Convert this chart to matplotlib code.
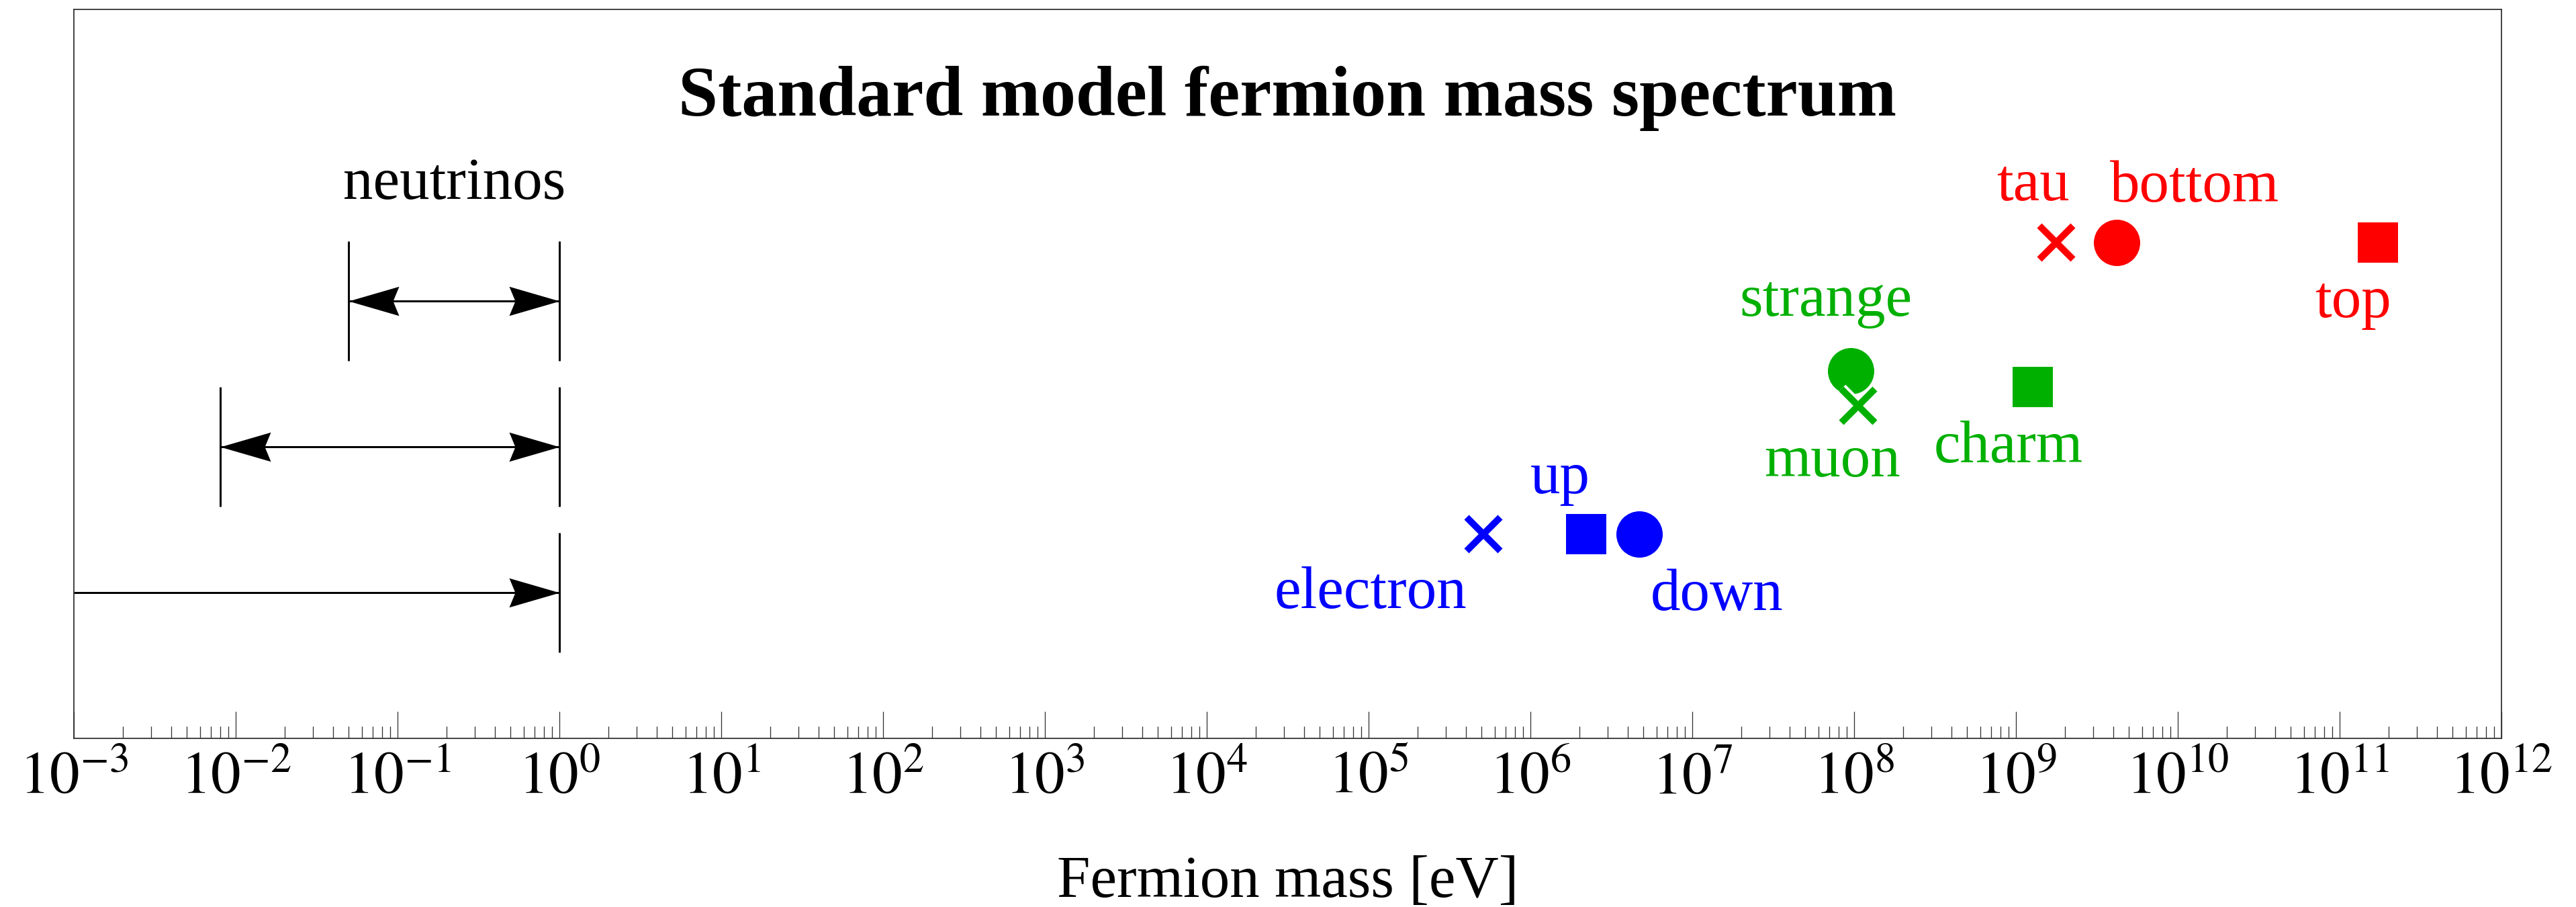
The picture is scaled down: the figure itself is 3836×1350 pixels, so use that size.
import matplotlib.pyplot as plt
from matplotlib.path import Path
from matplotlib.ticker import LogLocator, FuncFormatter, NullFormatter
import matplotlib.patheffects as pe
import numpy as np

plt.rcParams['font.family'] = ['Liberation Serif', 'DejaVu Serif']
plt.rcParams['mathtext.fontset'] = 'stix'

# charged fermions: masses in eV, row on the chart, kind sets the marker
names = ['down', 'strange', 'bottom', 'up', 'charm', 'top', 'electron', 'muon', 'tau']
masses = [4.7e6, 9.5e7, 4.18e9, 2.2e6, 1.27e9, 1.73e11, 5.11e5, 1.057e8, 1.777e9]
rows = [1.0, 2.12, 3.0, 1.0, 2.01, 3.0, 1.0, 1.88, 3.0]
generation = [1, 2, 3, 1, 2, 3, 1, 2, 3]
kinds = ['down', 'down', 'down', 'up', 'up', 'up', 'lepton', 'lepton', 'lepton']

# neutrino mass ranges in eV (lower bound 0 = unbounded)
nu_rows = [2.6, 1.6, 0.6]
nu_low = [0.05, 0.008, 0.0]
nu_high = [1.0, 1.0, 1.0]

decades = np.arange(-3, 13)

DPI = 100
px = 72 / DPI  # pixels -> points

gen_colors = {1: '#0000ff', 2: '#00b000', 3: '#ff0000'}
markers = {'down': 'o', 'up': 's', 'lepton': 'x'}
msizes = {'down': 69 * px, 'up': 60 * px, 'lepton': 50 * px}

# label offsets from the marker, in pixels (dx right, dy down to baseline)
label_offsets = {
    'electron': (-168, 110), 'up': (-38, -61), 'down': (116, 113),
    'strange': (-37, -82), 'muon': (-38, 105), 'charm': (-36, 112),
    'tau': (-35, -63), 'bottom': (116, -61), 'top': (-37, 111),
}

fig = plt.figure(figsize=(3837 / DPI, 1350 / DPI), dpi=DPI)
ax = fig.add_axes([110 / 3837, 251 / 1350, 3615 / 3837, 1085 / 1350])

ax.set_xscale('log')
ax.set_xlim(10.0 ** decades[0], 10.0 ** decades[-1])
ax.set_ylim(-0.4, 4.6)

# neutrino ranges: shaft, end bars and arrowheads
head_r = Path([(0, 0), (-1, 0.29), (-0.88, 0), (-1, -0.29), (0, 0)],
              [Path.MOVETO, Path.LINETO, Path.LINETO, Path.LINETO, Path.CLOSEPOLY])
head_l = Path(head_r.vertices * [-1, 1], head_r.codes)
lw = 3 * px
half = 0.41
xmin = ax.get_xlim()[0]
for y, lo, hi in zip(nu_rows, nu_low, nu_high):
    start = lo if lo > 0 else xmin
    ax.plot([start, hi], [y, y], color='black', lw=lw, solid_capstyle='butt')
    ax.vlines(hi, y - half, y + half, color='black', lw=lw)
    ax.plot(hi, y, marker=head_r, ms=150 * px, color='black', mew=0)
    if lo > 0:
        ax.vlines(lo, y - half, y + half, color='black', lw=lw)
        ax.plot(lo, y, marker=head_l, ms=150 * px, color='black', mew=0)

ax.annotate('neutrinos', (np.sqrt(nu_low[0] * nu_high[0]), nu_rows[0] + half),
            xytext=(0, 63 * px), textcoords='offset points',
            ha='center', va='baseline', fontsize=89 * px)

# charged fermions
for name, m, y, g, k in zip(names, masses, rows, generation, kinds):
    c = gen_colors[g]
    if k == 'lepton':
        ax.plot(m, y, marker='x', ms=msizes[k], mew=10 * px, color=c, zorder=4,
                path_effects=[pe.Stroke(linewidth=18 * px, foreground='white'),
                              pe.Normal()])
    else:
        ax.plot(m, y, marker=markers[k], ms=msizes[k], mew=0, color=c, zorder=3)
    dx, dy = label_offsets[name]
    ax.annotate(name, (m, y), xytext=(dx * px, -dy * px), textcoords='offset points',
                ha='center', va='baseline', color=c, fontsize=89 * px)

ax.text(0.5, 1 - 158 / 1085, 'Standard model fermion mass spectrum',
        transform=ax.transAxes, ha='center', va='baseline',
        fontsize=106 * px, fontweight='bold')

# axis styling
ax.xaxis.set_major_locator(LogLocator(base=10, numticks=30))
ax.xaxis.set_minor_locator(LogLocator(base=10, subs=np.arange(2, 10), numticks=30))
ax.xaxis.set_major_formatter(FuncFormatter(lambda v, _: f'$10^{{{int(round(np.log10(v)))}}}$'))
ax.xaxis.set_minor_formatter(NullFormatter())
ax.tick_params(axis='x', which='major', direction='in', length=40 * px, width=1.3 * px,
               color='#333333', labelsize=89 * px, pad=20 * px, top=False)
ax.tick_params(axis='x', which='minor', direction='in', length=18 * px, width=1.3 * px,
               color='#333333', top=False)
ax.set_yticks([])
for s in ax.spines.values():
    s.set_linewidth(1.8 * px)
    s.set_color('#333333')

ax.set_xlabel('Fermion mass [eV]', fontsize=89 * px)
ax.xaxis.label.set_va('baseline')
ax.xaxis.set_label_coords(0.5, -(1335 - 1099) / 1085)

fig.savefig('out.png', dpi=DPI)
